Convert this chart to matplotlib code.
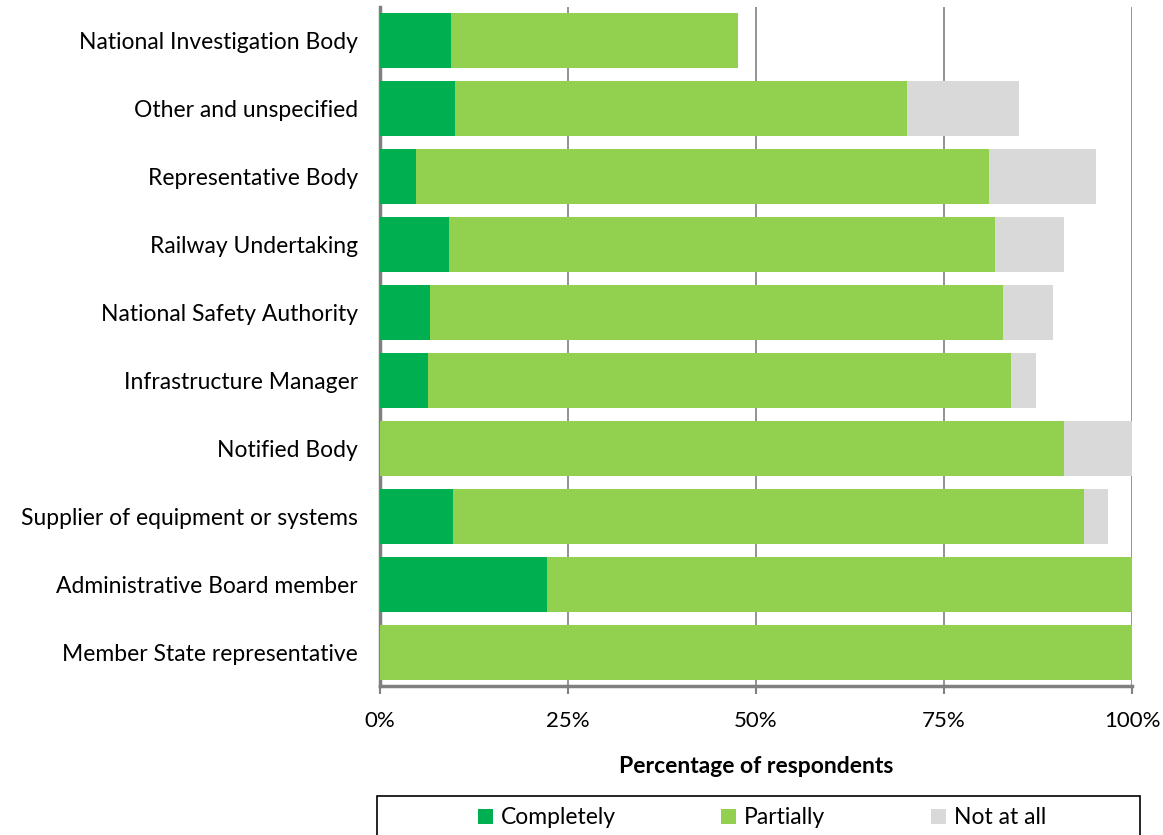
import matplotlib
matplotlib.use("Agg")
import matplotlib.pyplot as plt
from matplotlib.patches import Patch, Rectangle

categories = [
    "National Investigation Body",
    "Other and unspecified",
    "Representative Body",
    "Railway Undertaking",
    "National Safety Authority",
    "Infrastructure Manager",
    "Notified Body",
    "Supplier of equipment or systems",
    "Administrative Board member",
    "Member State representative",
]
completely = [9.4, 10.0, 4.8, 9.2, 6.6, 6.4, 0.0, 9.7, 22.2, 0.0]
partially = [38.2, 60.1, 76.2, 72.6, 76.2, 77.5, 91.0, 83.9, 77.8, 100.0]
not_at_all = [0.0, 14.9, 14.2, 9.2, 6.7, 3.3, 9.0, 3.2, 0.0, 0.0]

series_names = ["Completely", "Partially", "Not at all"]
colors = ["#00B050", "#92D050", "#D9D9D9"]
xticks = [0, 25, 50, 75, 100]
xticklabels = ["0%", "25%", "50%", "75%", "100%"]

plt.rcParams["font.family"] = ["Lato", "DejaVu Sans"]

W, H = 1163, 835
fig = plt.figure(figsize=(W/100, H/100), dpi=100)
ax = fig.add_axes([380/W, 1-686/H, (1132-380)/W, (686-7)/H])

y = list(range(len(categories)))
left = [0.0]*len(categories)
for vals, col, name in zip([completely, partially, not_at_all], colors, series_names):
    ax.barh(y, vals, left=left, height=0.81, color=col, edgecolor="none", zorder=3, label=name)
    left = [l + v for l, v in zip(left, vals)]

ax.set_ylim(len(categories)-0.5, -0.5)
ax.set_xlim(0, 100)
ax.set_yticks(y)
ax.set_yticklabels(categories, fontsize=16.5)
ax.set_xticks(xticks)
ax.set_xticklabels(xticklabels, fontsize=16)
ax.tick_params(axis="y", length=0, pad=16)
ax.tick_params(axis="x", direction="out", length=6, width=1.5, color="#808080", pad=12)
ax.xaxis.grid(True, color="#808080", linewidth=1.2, zorder=0)
for s in ["top", "right"]:
    ax.spines[s].set_visible(False)
ax.spines["left"].set_color("#808080")
ax.spines["left"].set_linewidth(2.5)
ax.spines["bottom"].set_color("#808080")
ax.spines["bottom"].set_linewidth(2.5)
ax.set_xlabel("Percentage of respondents", fontsize=16.5, fontweight="bold", labelpad=18)

# legend frame (extends below the figure edge as in the reference)
fig.patches.append(Rectangle((377/W, -0.05), (1140-377)/W, 0.05 + (1-796/H),
                             transform=fig.transFigure, facecolor="none",
                             edgecolor="black", linewidth=1.2))
handles = [Patch(facecolor=c, edgecolor="none") for c in colors]
leg = fig.legend(handles, series_names, loc="center",
                 bbox_to_anchor=(762/W, 1-818/H),
                 ncol=3, fontsize=16.5, frameon=False,
                 handlelength=0.65, handleheight=0.65, handletextpad=0.35,
                 columnspacing=4.6, borderaxespad=0, borderpad=0)

fig.savefig("out.png", dpi=100)
